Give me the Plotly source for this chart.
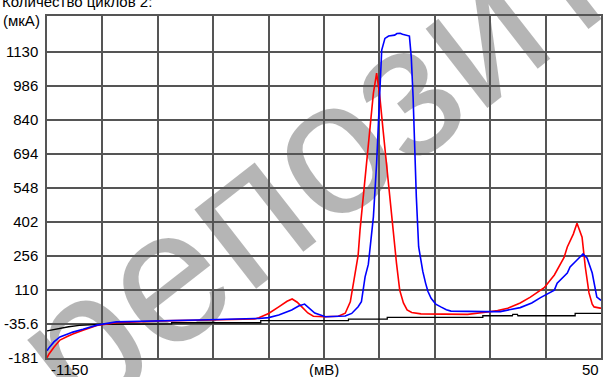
import plotly.graph_objects as go

# ---- data ----
red_x = [-1150, -1146, -1135, -1122, -1105, -1094, -1072, -1042, -1000, -900, -800, -700,
         -691, -670, -648, -630, -619, -608, -598, -585, -573, -550, -519, -504, -493,
         -483, -476, -472, -465, -458, -450, -443, -436, -429, -422, -415, -407, -400,
         -393, -386, -378, -370, -360, -340, -300, -239, -196, -174, -152, -139, -125,
         -103, -81, -73, -51, -45, -30, -23, -10, -2, 9, 16, 24, 31, 35, 48, 50]
red_y = [-180, -165, -135, -104, -88, -78, -62, -42, -30, -22, -18, -14,
         -8, 10, 38, 62, 72, 58, 38, 12, -2, -4, -2, 11, 60,
         170, 260, 367, 510, 655, 796, 954, 1040, 937, 796, 655, 510, 367,
         226, 110, 55, 25, 14, 8, 6, 6, 16, 22, 32, 44, 55,
         80, 110, 120, 175, 196, 250, 295, 350, 397, 337, 209, 98, 50, 38, 33, 33]

blue_x = [-1150, -1146, -1135, -1122, -1105, -1094, -1072, -1042, -1000, -900, -800, -700,
          -691, -670, -648, -620, -605, -592, -580, -570, -547, -504, -490, -476, -469,
          -461, -454, -443, -436, -429, -425, -418, -410, -397, -392, -385, -380, -365,
          -361, -357, -354, -350, -345, -340, -336, -330, -325, -318, -308, -297, -285,
          -275, -240, -200, -168, -152, -125, -100, -81, -51, -45, -23, -17, -2, 11, 20,
          31, 41, 48, 50]
blue_y = [-150, -138, -112, -91, -78, -70, -58, -40, -26, -20, -17, -12,
          -12, -8, 3, 25, 42, 50, 30, 12, -4, -1, 10, 39, 60,
          167, 220, 424, 655, 937, 1139, 1189, 1199, 1203, 1210, 1211, 1207, 1199,
          1110, 937, 724, 510, 296, 230, 190, 140, 105, 75, 50, 38, 26,
          20, 18, 18, 18, 25, 35, 55, 78, 110, 140, 183, 209, 239, 265, 247,
          183, 80, 68, 66]

black_x = [-1150, -1128, -1103, -1080, -1050, -1036, -880, -880, -687, -687, -497, -497,
           -413, -413, -206, -206, -142, -141, -131, -130, -6, -6, 50]
black_y = [-65, -56, -47, -41, -38, -37, -35, -30, -30, -21, -21, -14,
           -14, -7, -7, 0, 0, 6, 6, 0, 0, 10, 10]

y_ticks = [-181, -35.6, 110, 256, 402, 548, 694, 840, 986, 1130]
y_tick_text = ["-181", "-35.6", "110", "256", "402", "548", "694", "840", "986", "1130"]
x_min, x_max, x_step = -1150, 50, 120
y_min, y_max = -181, 1285

title_text = "Количество циклов 2:"
y_unit = "(мкА)"
x_unit = "(мВ)"
x_first_label = "-1150"
x_last_label = "50"
watermark = "репозиторий"

FONT = "Liberation Sans, Arial, sans-serif"
GRID = "#555555"

fig = go.Figure()
fig.add_trace(go.Scatter(x=black_x, y=black_y, mode="lines",
                         line=dict(color="#000000", width=1.3), showlegend=False))
fig.add_trace(go.Scatter(x=red_x, y=red_y, mode="lines",
                         line=dict(color="#ff0000", width=1.6), showlegend=False))
fig.add_trace(go.Scatter(x=blue_x, y=blue_y, mode="lines",
                         line=dict(color="#0000ff", width=1.6), showlegend=False))

fig.update_layout(
    width=603, height=377,
    margin=dict(l=47, r=0, t=16, b=19, pad=0),
    paper_bgcolor="white", plot_bgcolor="white",
    font=dict(family=FONT, size=15, color="black"),
    showlegend=False,
)
fig.update_xaxes(range=[x_min, x_max], tick0=x_min, dtick=x_step, showticklabels=False,
                 showgrid=True, gridcolor=GRID, gridwidth=1.5, zeroline=False,
                 showline=True, linecolor=GRID, linewidth=1.5, mirror=True, ticks="")
fig.update_yaxes(range=[y_min, y_max], tickvals=y_ticks, ticktext=y_tick_text,
                 showgrid=True, gridcolor=GRID, gridwidth=1.5, zeroline=False,
                 showline=True, linecolor=GRID, linewidth=1.5, mirror=True, ticks="",
                 ticklabelstandoff=4, tickfont=dict(size=15, color="black"))

# watermark (semi-transparent so the grid shows through)
cx, cy = 0.761, 1.0
fig.add_shape(type="rect", xref="paper", yref="paper",
              x0=cx - 0.001, x1=cx + 0.001, y0=cy - 0.001, y1=cy + 0.001,
              line=dict(width=0), fillcolor="rgba(0,0,0,0)", layer="below",
              label=dict(text=watermark, textangle=-38, textposition="middle center",
                         font=dict(size=190, color="rgba(0,0,0,0.29)", family=FONT)))

fig.add_annotation(text=title_text, xref="paper", yref="paper", x=-47/556, y=1.041,
                   xanchor="left", yanchor="middle", showarrow=False,
                   font=dict(size=15, color="black"))
fig.add_annotation(text=y_unit, xref="paper", yref="paper", x=-5/556, y=0.988,
                   xanchor="right", yanchor="middle", showarrow=False,
                   font=dict(size=15, color="black"))
fig.add_annotation(text=x_first_label, xref="paper", yref="paper", x=2/556, y=-0.035,
                   xanchor="left", yanchor="middle", showarrow=False,
                   font=dict(size=15, color="black"))
fig.add_annotation(text=x_unit, xref="paper", yref="paper", x=0.5, y=-0.035,
                   xanchor="center", yanchor="middle", showarrow=False,
                   font=dict(size=15, color="black"))
fig.add_annotation(text=x_last_label, xref="paper", yref="paper", x=1.0, y=-0.035,
                   xanchor="right", yanchor="middle", showarrow=False,
                   font=dict(size=15, color="black"))

fig.write_html("out.html", config={"displayModeBar": False},
               post_script="document.body.style.margin='0';document.body.style.overflow='hidden';")
